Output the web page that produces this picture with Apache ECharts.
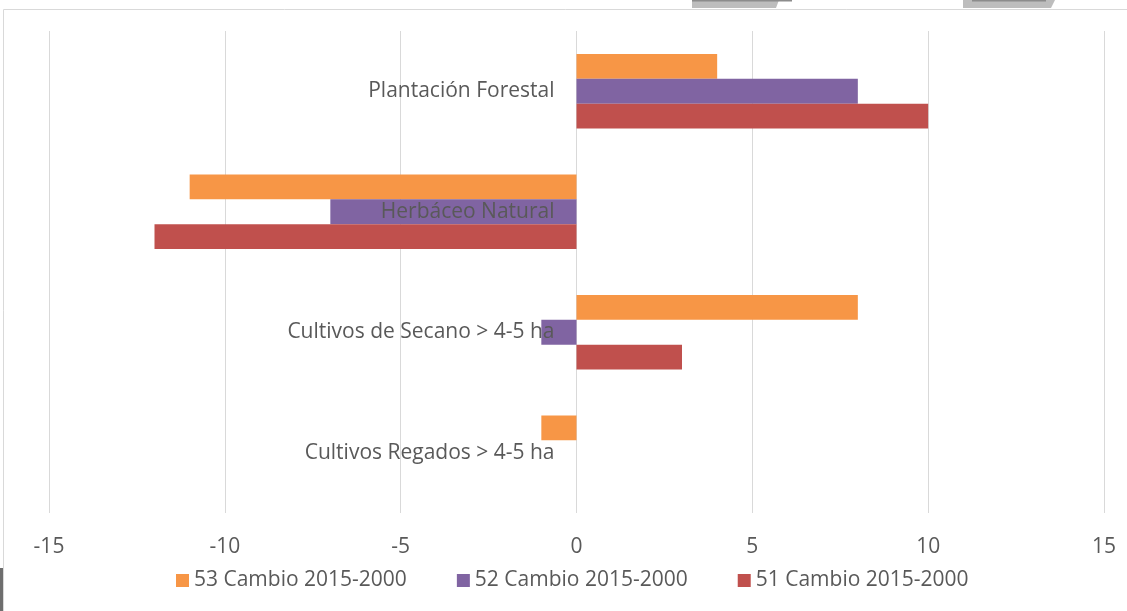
<!DOCTYPE html>
<html>
<head>
<meta charset="utf-8">
<script src="https://cdn.jsdelivr.net/npm/echarts@6/dist/echarts.min.js"></script>
<style>html,body{margin:0;padding:0;background:#fff}#c{width:1127px;height:611px}</style>
</head>
<body>
<div id="c"></div>
<script>
const categories = ['Cultivos Regados > 4-5 ha', 'Cultivos de Secano > 4-5 ha', 'Herbáceo Natural', 'Plantación Forestal'];
const seriesNames = ['53 Cambio 2015-2000', '52 Cambio 2015-2000', '51 Cambio 2015-2000'];
const s53 = [-1, 8, -11, 4];
const s52 = [0, -1, -7, 8];
const s51 = [0, 3, -12, 10];
const xTicks = { min: -15, max: 15, interval: 5 };

const colors = ['#F79646', '#8064A2', '#C0504D'];
const font = 'Open Sans';
const gridLeft = 49, gridRight = 23;
const plotW = 1127 - gridLeft - gridRight;
const zeroOffset = plotW * (0 - xTicks.min) / (xTicks.max - xTicks.min);

const chart = echarts.init(document.getElementById('c'));
chart.setOption({
  animation: false,
  color: colors,
  textStyle: { fontFamily: font },
  graphic: [
    { type: 'rect', shape: { x: 3.5, y: 9.5, width: 1130, height: 610 },
      style: { fill: 'none', stroke: '#D9D9D9', lineWidth: 1 }, silent: true, z: -1 },
    { type: 'polygon', shape: { points: [[692, 0], [779, 0], [776, 8], [692, 8]] },
      style: { fill: '#BDBDBD' }, silent: true },
    { type: 'rect', shape: { x: 692, y: 0, width: 100, height: 1.5 }, style: { fill: '#8C8C8C' }, silent: true },
    { type: 'polygon', shape: { points: [[963, 0], [1055, 0], [1051, 8], [963, 8]] },
      style: { fill: '#BDBDBD' }, silent: true },
    { type: 'rect', shape: { x: 972, y: 0, width: 74, height: 1.5 }, style: { fill: '#8C8C8C' }, silent: true },
    { type: 'rect', shape: { x: 0, y: 568, width: 3, height: 43 }, style: { fill: '#6E6E6E' }, silent: true }
  ],
  grid: { left: gridLeft, right: gridRight, top: 31, bottom: 98, containLabel: false, outerBoundsMode: 'none' },
  legend: {
    top: 565, left: 171, itemGap: 50, icon: 'rect', itemWidth: 13, itemHeight: 13,
    textStyle: { color: '#595959', fontSize: 21, fontFamily: font },
    data: seriesNames
  },
  xAxis: {
    type: 'value', min: xTicks.min, max: xTicks.max, interval: xTicks.interval,
    axisLine: { show: false }, axisTick: { show: false },
    splitLine: { lineStyle: { color: '#D9D9D9', width: 1 } },
    axisLabel: { color: '#595959', fontSize: 21, margin: 24, fontFamily: font }
  },
  yAxis: {
    type: 'category', data: categories, z: 10, offset: -zeroOffset,
    axisLine: { show: false, onZero: false },
    axisTick: { show: false },
    axisLabel: { color: '#595959', fontSize: 21, margin: 22, fontFamily: font }
  },
  series: [
    { name: seriesNames[0], type: 'bar', data: s53, barGap: '0%', barCategoryGap: '38%' },
    { name: seriesNames[1], type: 'bar', data: s52, barGap: '0%', barCategoryGap: '38%' },
    { name: seriesNames[2], type: 'bar', data: s51, barGap: '0%', barCategoryGap: '38%' }
  ]
});
</script>
</body>
</html>
